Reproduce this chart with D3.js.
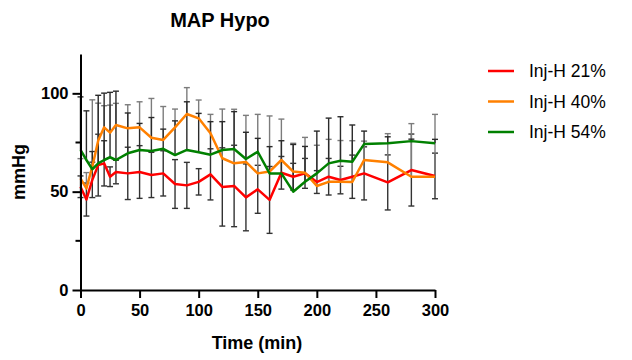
<!DOCTYPE html>
<meta charset="utf-8">
<style>
body {
  margin: 0;
  background: #fff;
}
text {
  font-family: 'Liberation Sans', Arial, sans-serif;
  font-weight: 700;
  fill: black;
}
.legendtext {
  font-weight: 400;
}
</style>
<body>
<svg width="632" height="360"></svg>
<script src="https://d3js.org/d3.v7.min.js"></script>
<script>

// time points (min)
var times = [0, 5, 10, 15, 20, 25, 30, 40, 50, 60, 70, 80, 90, 100, 110, 120, 130, 140, 150, 160, 170, 180, 190, 200, 210, 220, 230, 240, 260, 280, 300];

// means (mmHg)
var red21 = [52.5, 46, 56, 63.5, 64.4, 57.6, 60, 59.3, 60, 58.5, 59.3, 53.9, 53.2, 55, 58.8, 52.4, 52.9, 47.1, 51.2, 45.8, 59.6, 57.6, 59.3, 54.9, 57.6, 55.9, 57.6, 59.3, 54.7, 61, 58];
var orange40 = [56.8, 51.7, 62.7, 76, 82.7, 80, 83.9, 82.2, 82.7, 77.4, 76.3, 82.7, 89.5, 87.3, 79.7, 67, 64.4, 65.1, 59.3, 60.2, 66.1, 60.2, 59.6, 52.9, 55, 55, 54.9, 66.1, 64.9, 57.6, 57.6];
var green54 = [71.2, 66.1, 61.4, 64.4, 66.1, 67.5, 66.1, 69.5, 71.2, 70.7, 71.8, 68.6, 71.2, 70, 68.8, 71.2, 71.7, 66.6, 70.3, 59.3, 59.3, 50, 55, 59.3, 64.4, 65.7, 65.2, 74.2, 74.6, 75.7, 74.6];

// error (SD) for each series
var red21Err = [5.5, 8.4, 9, 15.7, 11.5, 5, 6, 13.3, 13.4, 11.5, 11.5, 12.4, 11.7, 6.7, 13, 19.9, 20.7, 17, 12.2, 17, 8.3, 6.8, 7.6, 5.8, 9.3, 7, 11, 13.5, 14, 18.3, 11.6];
var orange40Err = [10, 8, 34, 19, 11, 14, 11, 12, 13, 20, 17, 9.3, 13.4, 9.3, 9.6, 25, 27.5, 23.7, 30, 28.3, 20.8, 14.4, 18, 20.7, 21.6, 21, 21, 9.6, 14.6, 27, 31.7];
var green54Err = [27, 25, 9, 34.6, 34, 33, 35, 20.5, 13.5, 17, 10, 17.4, 24.5, 19.8, 16.8, 14.4, 19, 13.6, 6.8, 13.6, 16.6, 24, 18, 21.5, 23, 22.4, 18.7, 6.6, 3.3, 1, 2];

var xTicks = [0, 50, 100, 150, 200, 250, 300];
var yTicks = [0, 50, 100];
var yMinor = [25, 75];

var series = [
  {name: "Inj-H 21%", color: "#ff0000", values: red21, err: red21Err, dir: "both", barColor: "#333333"},
  {name: "Inj-H 40%", color: "#ff8000", values: orange40, err: orange40Err, dir: "above", barColor: "#7c7c7c"},
  {name: "Inj-H 54%", color: "#008000", values: green54, err: green54Err, dir: "above", barColor: "#2a2a2a"}
];

var svg = d3.select("svg");

var x = d3.scaleLinear().domain([0, 300]).range([80.5, 435]);
var y = d3.scaleLinear().domain([0, 120]).range([290, 54]);

// error bars first, behind the lines
series.forEach(function(s) {
  var g = svg.append("g").attr("stroke", s.barColor).attr("stroke-width", 1.4).attr("fill", "none");
  times.forEach(function(t, i) {
    var m = s.values[i], e = s.err[i];
    var hi = m + e;
    var lo = s.dir == "both" ? m - e : m;
    var cx = x(t);
    g.append("line").attr("x1", cx).attr("x2", cx).attr("y1", y(hi)).attr("y2", y(lo));
    g.append("line").attr("x1", cx - 3).attr("x2", cx + 3).attr("y1", y(hi)).attr("y2", y(hi));
    if (s.dir == "both") {
      g.append("line").attr("x1", cx - 3).attr("x2", cx + 3).attr("y1", y(lo)).attr("y2", y(lo));
    }
  });
});

var line = d3.line()
  .x(function(d) { return x(d[0]); })
  .y(function(d) { return y(d[1]); });

series.forEach(function(s) {
  svg.append("path")
    .datum(times.map(function(t, i) { return [t, s.values[i]]; }))
    .attr("fill", "none")
    .attr("stroke", s.color)
    .attr("stroke-width", 2.5)
    .attr("stroke-linejoin", "round")
    .attr("d", line);
});

// axes
var xAxis = svg.append("g")
  .attr("transform", "translate(0,290)")
  .call(d3.axisBottom(x).tickValues(xTicks).tickSize(8).tickPadding(6).tickSizeOuter(0));
var yAxis = svg.append("g")
  .attr("transform", "translate(80.5,0)")
  .call(d3.axisLeft(y).tickValues(yTicks).tickSize(8).tickPadding(4).tickSizeOuter(0));

yAxis.selectAll(".minor")
  .data(yMinor)
  .enter().append("line")
  .attr("class", "minor")
  .attr("stroke", "black")
  .attr("stroke-width", 2)
  .attr("x1", -5).attr("x2", 0)
  .attr("y1", function(d) { return y(d); })
  .attr("y2", function(d) { return y(d); });

[xAxis, yAxis].forEach(function(a) {
  a.select(".domain").attr("stroke-width", 2);
  a.selectAll(".tick line").attr("stroke-width", 2);
  a.selectAll(".tick text")
    .style("font-family", "'Liberation Sans', Arial, sans-serif")
    .style("font-weight", "700")
    .style("font-size", "16.5px");
});

// titles
svg.append("text")
  .attr("x", 220)
  .attr("y", 27)
  .attr("text-anchor", "middle")
  .style("font-size", "20px")
  .text("MAP Hypo");

svg.append("text")
  .attr("x", 257)
  .attr("y", 349)
  .attr("text-anchor", "middle")
  .style("font-size", "18px")
  .text("Time (min)");

svg.append("text")
  .attr("transform", "translate(25,172) rotate(-90)")
  .attr("text-anchor", "middle")
  .style("font-size", "18px")
  .text("mmHg");

// legend
var legend = svg.selectAll(".legend")
  .data(series)
  .enter().append("g")
  .attr("class", "legend")
  .attr("transform", function(d, i) { return "translate(488," + (71 + i * 30.5) + ")"; });

legend.append("line")
  .attr("x1", 0).attr("x2", 26)
  .attr("stroke", function(d) { return d.color; })
  .attr("stroke-width", 2.5);

legend.append("text")
  .attr("class", "legendtext")
  .attr("x", 41)
  .attr("y", 6)
  .style("font-size", "17.5px")
  .text(function(d) { return d.name; });

</script>
</body>
